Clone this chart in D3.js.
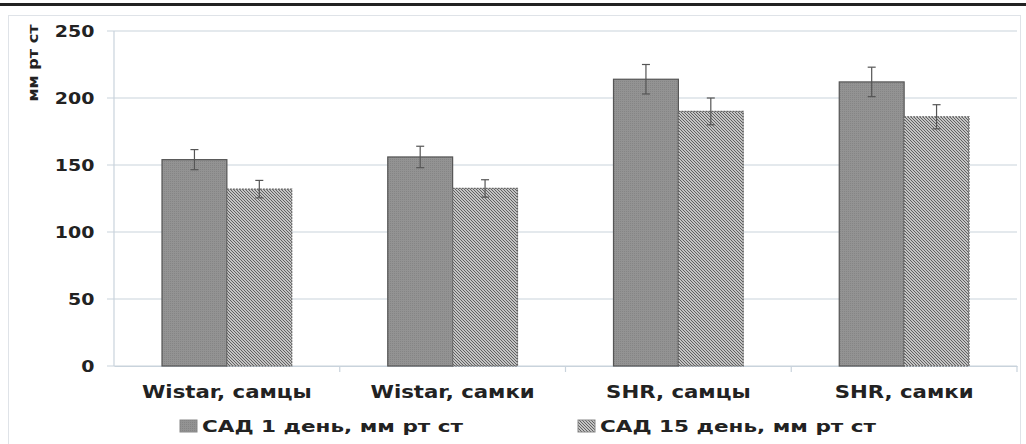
<!DOCTYPE html>
<html>
<head>
<meta charset="utf-8">
<script src="https://cdn.jsdelivr.net/npm/d3@7"></script>
<style>
  body { margin: 0; background: #fff; }
  text { font-family: "DejaVu Sans", "Liberation Sans", sans-serif; font-weight: bold; fill: #222; }
</style>
</head>
<body>
<div id="chart"></div>
<script>
let categories = ["Wistar, самцы", "Wistar, самки", "SHR, самцы", "SHR, самки"];
let seriesNames = ["САД 1 день, мм рт ст", "САД 15 день, мм рт ст"];
let day1 = [154, 156, 214, 212];
let day1Err = [7.5, 8, 11, 11];
let day15 = [132, 132.5, 190, 186];
let day15Err = [6.5, 6.5, 10, 9];
let yTicks = [0, 50, 100, 150, 200, 250];

let svgWidth = 1026;
let svgHeight = 444;
let margin = { top: 31, right: 9, bottom: 78, left: 114 };
let width = svgWidth - margin.left - margin.right;
let height = svgHeight - margin.top - margin.bottom;

let svg = d3.select("#chart").append("svg")
    .attr("width", svgWidth)
    .attr("height", svgHeight);

let defs = svg.append("defs");
// fine dotted grey fill for first series
let p1 = defs.append("pattern")
    .attr("id", "dots")
    .attr("width", 2).attr("height", 2)
    .attr("patternUnits", "userSpaceOnUse");
p1.append("rect").attr("width", 2).attr("height", 2).attr("fill", "#939393");
p1.append("rect").attr("width", 1).attr("height", 1).attr("fill", "#858585");

// diagonal hatch for second series
let p2 = defs.append("pattern")
    .attr("id", "hatch")
    .attr("width", 3).attr("height", 3)
    .attr("patternUnits", "userSpaceOnUse");
p2.append("rect").attr("width", 3).attr("height", 3).attr("fill", "#eeeeee");
p2.append("path")
    .attr("d", "M-1,-1 L4,4 M-1,2 L1,4 M2,-1 L4,1")
    .attr("stroke", "#5a5a5a")
    .attr("stroke-width", 1.1);

// top black rule and outer frame
svg.append("rect").attr("x", 0).attr("y", 3).attr("width", svgWidth).attr("height", 3).attr("fill", "#222");
svg.append("rect")
    .attr("x", 8.5).attr("y", 15.5)
    .attr("width", 1012).attr("height", 440)
    .attr("fill", "none")
    .attr("stroke", "#dfe3e8");

let chartGroup = svg.append("g")
    .attr("transform", `translate(${margin.left}, ${margin.top})`);

let x0 = d3.scaleBand().domain(categories).range([0, width]).paddingInner(0).paddingOuter(0);
let x1 = d3.scaleBand().domain([0, 1]).range([0, x0.bandwidth()]).paddingInner(0).paddingOuter(0.74);
let y = d3.scaleLinear().domain([0, 250]).range([height, 0]);

// gridlines
chartGroup.append("g")
    .selectAll("line")
    .data(yTicks)
    .enter()
    .append("line")
    .attr("x1", -7).attr("x2", width)
    .attr("y1", d => y(d)).attr("y2", d => y(d))
    .attr("stroke", "#c9d3dc")
    .attr("stroke-width", 1.2);

// y axis line
chartGroup.append("line")
    .attr("x1", 0).attr("x2", 0)
    .attr("y1", 0).attr("y2", height)
    .attr("stroke", "#c9d3dc")
    .attr("stroke-width", 1.2);

// y tick labels
let leftAxis = d3.axisLeft(y).tickValues(yTicks).tickSize(0).tickPadding(0);
let yAx = chartGroup.append("g").call(leftAxis);
yAx.select(".domain").remove();
yAx.selectAll("text")
    .attr("x", -17)
    .attr("dy", "0.36em")
    .attr("font-size", "16.5px")
    .attr("font-family", "DejaVu Sans, sans-serif")
    .attr("font-weight", "bold")
    .attr("fill", "#222")
    .attr("transform", "scale(1.15,1)");

// x axis with category boundary ticks
let bottomAxis = d3.axisBottom(x0).tickSize(0);
let xAx = chartGroup.append("g")
    .attr("transform", `translate(0, ${height})`)
    .call(bottomAxis);
xAx.select(".domain").attr("stroke", "#c9d3dc").attr("stroke-width", 1.2);
xAx.selectAll("text")
    .attr("y", 32)
    .attr("dy", 0)
    .attr("font-size", "17px")
    .attr("font-family", "DejaVu Sans, sans-serif")
    .attr("font-weight", "bold")
    .attr("fill", "#222")
    .attr("transform", "scale(1.25,1)");
chartGroup.append("g")
    .selectAll("line")
    .data(categories)
    .enter()
    .append("line")
    .attr("x1", d => x0(d) + x0.bandwidth()).attr("x2", d => x0(d) + x0.bandwidth())
    .attr("y1", height).attr("y2", height + 6)
    .attr("stroke", "#c9d3dc")
    .attr("stroke-width", 1.2);

// bars
let series = [
    { vals: day1, errs: day1Err, fill: "url(#dots)", stroke: "#555", dash: null },
    { vals: day15, errs: day15Err, fill: "url(#hatch)", stroke: "#666", dash: "2,1" }
];

series.forEach(function (s, si) {
    let g = chartGroup.append("g");
    g.selectAll("rect")
        .data(categories)
        .enter()
        .append("rect")
        .attr("x", d => x0(d) + x1(si))
        .attr("y", (d, i) => y(s.vals[i]))
        .attr("width", x1.bandwidth())
        .attr("height", (d, i) => height - y(s.vals[i]))
        .attr("fill", s.fill)
        .attr("stroke", s.stroke)
        .attr("stroke-width", 1.2)
        .attr("stroke-dasharray", s.dash);

    // error bars
    let eg = chartGroup.append("g");
    categories.forEach(function (c, i) {
        let cx = x0(c) + x1(si) + x1.bandwidth() / 2;
        let top = y(s.vals[i] + s.errs[i]);
        let bot = y(s.vals[i] - s.errs[i]);
        eg.append("line")
            .attr("x1", cx).attr("x2", cx)
            .attr("y1", top).attr("y2", bot)
            .attr("stroke", "#555").attr("stroke-width", 1.2);
        eg.append("line")
            .attr("x1", cx - 4).attr("x2", cx + 4)
            .attr("y1", top).attr("y2", top)
            .attr("stroke", "#555").attr("stroke-width", 1.2);
        eg.append("line")
            .attr("x1", cx - 4).attr("x2", cx + 4)
            .attr("y1", bot).attr("y2", bot)
            .attr("stroke", "#555").attr("stroke-width", 1.2);
    });
});

// y axis title
svg.append("text")
    .attr("transform", "translate(38, 63) rotate(-90) scale(1.15,1)")
    .attr("text-anchor", "middle")
    .attr("font-size", "14px")
    .text("мм рт ст");

// legend
let legendX = [180, 578];
let legend = svg.append("g");
seriesNames.forEach(function (name, i) {
    legend.append("rect")
        .attr("x", legendX[i]).attr("y", 420)
        .attr("width", 17).attr("height", 12)
        .attr("fill", series[i].fill)
        .attr("stroke", "#888")
        .attr("stroke-width", 1);
    legend.append("text")
        .attr("transform", `translate(${legendX[i] + 22}, 432) scale(1.39,1)`)
        .attr("font-size", "15.5px")
        .text(name);
});
</script>
</body>
</html>
